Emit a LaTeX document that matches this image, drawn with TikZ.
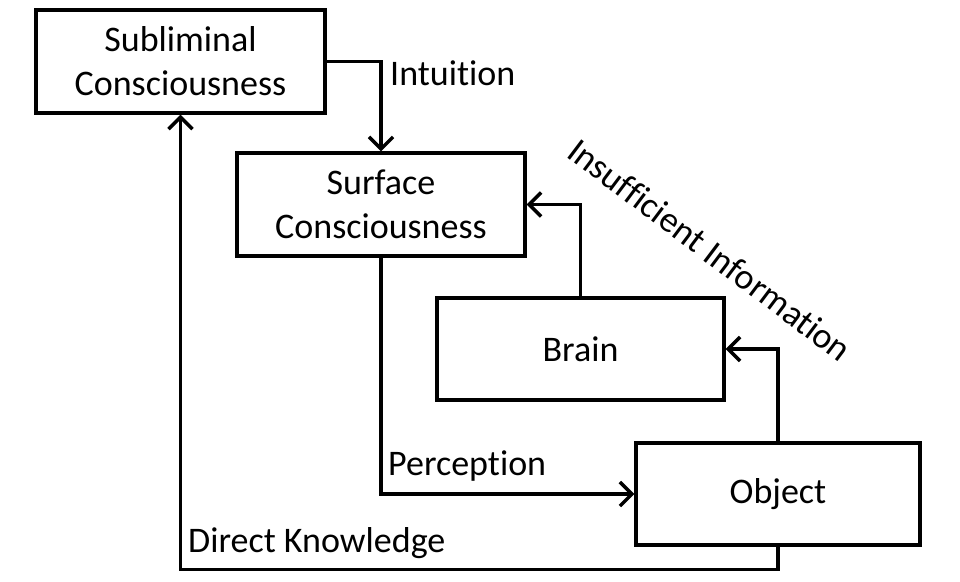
\documentclass[tikz,border=0pt]{standalone}
\usepackage{fontspec}
\setmainfont{Carlito}[Ligatures=CommonOff]
\usetikzlibrary{arrows.meta,calc}
\begin{document}
\begin{tikzpicture}[x=1pt,y=-1pt,
  box/.style={draw,line width=3.4pt,rectangle,inner sep=0pt,align=center,font=\fontsize{36}{44}\selectfont},
  lab/.style={font=\fontsize{36}{40}\selectfont,inner sep=0pt},
  arr/.style={line width=3.4pt,-{Straight Barb[length=12pt,width=24pt,line width=3.4pt]}}]
\useasboundingbox (0,0) rectangle (960,581);
\node[box,minimum width=289pt,minimum height=103pt] (sub) at (180.5,61.5) {Subliminal\\Consciousness};
\node[box,minimum width=288pt,minimum height=103pt] (surf) at (381,204.5) {Surface\\Consciousness};
\node[box,minimum width=287pt,minimum height=102pt] (brain) at (580.5,349) {Brain};
\node[box,minimum width=284pt,minimum height=102pt] (obj) at (778,494) {Object};
\draw[arr] (sub.east) -| (surf.north);
\draw[arr] (brain.north) |- (surf.east);
\draw[arr] (obj.north) |- (brain.east);
\draw[arr] (surf.south) |- (obj.west);
\draw[arr] (obj.south) -- ++(0,23) -| (sub.south);
\node[lab,anchor=west] (lint) at (390,73) {Intuition};
\node[lab,anchor=west] (lper) at (388,466) {Perception};
\node[lab,anchor=west] (ldk) at (188,543) {Direct Knowledge};
\node[lab,rotate=-37] (lins) at (710,250) {Insufficient Information};
\end{tikzpicture}
\end{document}
